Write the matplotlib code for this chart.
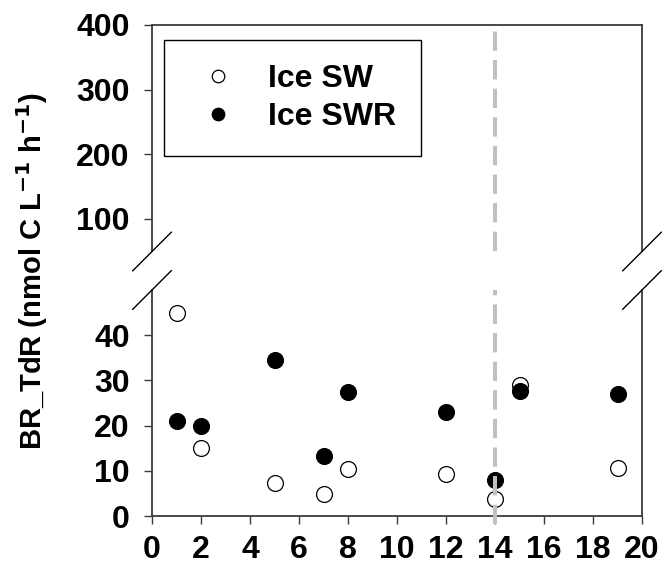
import matplotlib
matplotlib.use("Agg")
import matplotlib.pyplot as plt
from matplotlib.lines import Line2D

# sampling days and rates for the two ice treatments
days = [1, 2, 5, 7, 8, 12, 14, 15, 19]
ice_sw = [44.9, 15.1, 7.4, 4.9, 10.3, 9.3, 3.8, 28.9, 10.6]
ice_swr = [21.0, 19.9, 34.5, 13.2, 27.4, 23.0, 7.9, 27.7, 27.1]
labels = ["Ice SW", "Ice SWR"]

x_ticks = list(range(0, 21, 2))
low_ticks = [0, 10, 20, 30, 40]
high_ticks = [100, 200, 300, 400]
split_day = 14

plt.rcParams["font.family"] = ["Liberation Sans", "DejaVu Sans"]
plt.rcParams["font.weight"] = "bold"
plt.rcParams["font.size"] = 23

W, H = 662, 572
fig = plt.figure(figsize=(W / 100, H / 100), dpi=100)

left, right = 152, 642
ax_hi = fig.add_axes([left / W, 1 - 251 / H, (right - left) / W, 226 / H])
ax_lo = fig.add_axes([left / W, 1 - 516 / H, (right - left) / W, 226 / H])

spine_c = "#3a3a3a"
for ax in (ax_hi, ax_lo):
    for s in ax.spines.values():
        s.set_color(spine_c)
        s.set_linewidth(1.3)
    ax.set_xlim(0, 20)
    ax.tick_params(axis="y", direction="out", length=6, width=1,
                   color=spine_c, pad=10, labelsize=23)
    ax.tick_params(axis="x", direction="out", length=6, width=1,
                   color=spine_c, pad=8, labelsize=23)

# all values sit below the break, so only the lower panel gets points
ax_lo.scatter(days, ice_sw, s=130, facecolor="white", edgecolor="black",
              linewidth=0.9, zorder=3)
ax_lo.scatter(days, ice_swr, s=130, facecolor="black", edgecolor="black",
              linewidth=0.9, zorder=4)
ax_lo.set_ylim(0, 50)
ax_lo.set_yticks(low_ticks)
ax_lo.set_xticks(x_ticks)
ax_lo.spines["top"].set_visible(False)
ax_lo.axvline(split_day, ymin=-0.035, ymax=1, color="#c0c0c0", lw=2.9,
              dashes=(4.8, 2.3), zorder=5, clip_on=False)

ax_hi.set_ylim(50, 400)
ax_hi.set_yticks(high_ticks)
ax_hi.set_xticks([])
ax_hi.spines["bottom"].set_visible(False)
ax_hi.axvline(split_day, color="#c0c0c0", lw=2.9, dashes=(4.8, 2.3), zorder=5)

# diagonal break marks on both sides between the two panels
dx, dy = 19.3 / W, 19.3 / H
for xc in (left / W, right / W):
    for yc in (1 - 251.5 / H, 1 - 290 / H):
        fig.add_artist(Line2D([xc - dx, xc + dx], [yc - dy, yc + dy],
                              color="black", lw=1.0, transform=fig.transFigure))

handles = [
    Line2D([], [], ls="none", marker="o", ms=9, mfc="white", mec="black", mew=0.9),
    Line2D([], [], ls="none", marker="o", ms=9, mfc="black", mec="black", mew=0.9),
]
leg = ax_hi.legend(handles, labels, loc="upper left",
                   bbox_to_anchor=(12 / 490, 1 - 15 / 226), borderaxespad=0,
                   frameon=True, fancybox=False, edgecolor="black",
                   framealpha=1, borderpad=0.75, labelspacing=0.25,
                   handlelength=1.9, handletextpad=0.62,
                   prop={"size": 23, "weight": "bold"})
leg.get_frame().set_linewidth(1.0)

fig.text(32 / W, 1 - 271 / H, "BR_TdR (nmol C L$^{\\mathbf{-1}}$ h$^{\\mathbf{-1}}$)",
         rotation=90, ha="center", va="center", fontsize=21, fontweight="bold")

fig.savefig("out.png", dpi=100)
